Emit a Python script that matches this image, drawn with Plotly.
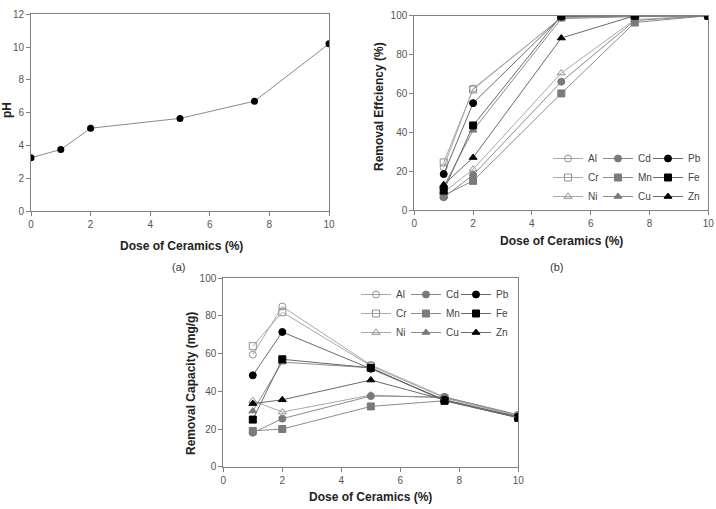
import plotly.graph_objects as go

W, H = 716, 509

# ---------------- data ----------------
dose_ph = [0, 1, 2, 5, 7.5, 10]
ph_vals = [3.25, 3.75, 5.05, 5.65, 6.7, 10.2]

dose = [1, 2, 5, 7.5, 10]
metals = ["Al", "Cd", "Pb", "Cr", "Mn", "Fe", "Ni", "Cu", "Zn"]

efficiency = {
    "Al": [22, 62.5, 99, 100, 100],
    "Cr": [24.5, 62, 99, 100, 100],
    "Pb": [18.5, 55, 99.5, 100, 100],
    "Fe": [10, 43.5, 100, 100, 100],
    "Cu": [12, 41, 98.5, 99.5, 100],
    "Zn": [13, 27, 88.5, 100, 100],
    "Ni": [9, 21, 70.5, 98, 100],
    "Cd": [6.5, 18, 66, 97.5, 100],
    "Mn": [7.5, 15, 60, 96.5, 100],
}

capacity = {
    "Al": [59.5, 85, 54, 37, 27.5],
    "Cr": [64, 82, 53.5, 36.5, 27],
    "Pb": [48.5, 71.5, 52, 35.5, 26.5],
    "Fe": [25, 57, 52.5, 35, 26],
    "Cu": [29.5, 55.5, 52.5, 35, 26.5],
    "Zn": [33.5, 35.5, 46, 35.5, 26],
    "Ni": [35, 29, 38, 36.5, 27],
    "Cd": [18, 25.5, 37.5, 37, 27.5],
    "Mn": [19, 20, 32, 35, 26],
}

x_ticks = [0, 2, 4, 6, 8, 10]

# ---------------- styles ----------------
GRAY = "#808080"
style = {
    "Al": dict(symbol="circle-open", mcolor="#909090", fill="white", lcolor="#a8a8a8"),
    "Cr": dict(symbol="square-open", mcolor="#909090", fill="white", lcolor="#a8a8a8"),
    "Ni": dict(symbol="triangle-up-open", mcolor="#909090", fill="white", lcolor="#a8a8a8"),
    "Cd": dict(symbol="circle", mcolor="#7a7a7a", fill="#7a7a7a", lcolor="#8c8c8c"),
    "Mn": dict(symbol="square", mcolor="#7a7a7a", fill="#7a7a7a", lcolor="#8c8c8c"),
    "Cu": dict(symbol="triangle-up", mcolor="#7a7a7a", fill="#7a7a7a", lcolor="#8c8c8c"),
    "Pb": dict(symbol="circle", mcolor="#000000", fill="#000000", lcolor="#6a6a6a"),
    "Fe": dict(symbol="square", mcolor="#000000", fill="#000000", lcolor="#6a6a6a"),
    "Zn": dict(symbol="triangle-up", mcolor="#000000", fill="#000000", lcolor="#6a6a6a"),
}
column_of = {"Al": 0, "Cr": 0, "Ni": 0, "Cd": 1, "Mn": 1, "Cu": 1, "Pb": 2, "Fe": 2, "Zn": 2}
legend_order = ["Al", "Cr", "Ni", "Cd", "Mn", "Cu", "Pb", "Fe", "Zn"]

TITLE_FONT = dict(family="Liberation Sans Narrow, Arial Narrow, sans-serif", size=12, color="#222")
TICK_FONT = dict(family="Liberation Sans Narrow, Arial Narrow, sans-serif", size=10, color="#555")
LEG_FONT = dict(family="Liberation Sans Narrow, Arial Narrow, sans-serif", size=10, color="#444")

fig = go.Figure()

# (a) pH
fig.add_trace(go.Scatter(
    x=dose_ph, y=ph_vals, mode="lines+markers", showlegend=False,
    line=dict(color="#8a8a8a", width=1),
    marker=dict(symbol="circle", size=7, color="black"),
    xaxis="x", yaxis="y"))

# (b) and (c)
def add_set(data, xa, ya, legends):
    for m in legend_order:
        s = style[m]
        fig.add_trace(go.Scatter(
            x=dose, y=data[m], mode="lines+markers", name=m,
            line=dict(color=s["lcolor"], width=1),
            marker=dict(symbol=s["symbol"], size=7, color=s["fill"] if "open" not in s["symbol"] else s["mcolor"],
                        line=dict(color=s["mcolor"], width=1)),
            xaxis=xa, yaxis=ya, legend=legends[column_of[m]]))

add_set(efficiency, "x2", "y2", ["legend", "legend2", "legend3"])
add_set(capacity, "x3", "y3", ["legend4", "legend5", "legend6"])

def px_x(p):
    return p / W

def px_y(p):
    return 1 - p / H

axis_common = dict(showline=True, linecolor=GRAY, linewidth=1, mirror=True, showgrid=False,
                   zeroline=False, ticks="outside", ticklen=4, tickcolor=GRAY,
                   tickfont=TICK_FONT, automargin=False)

layout = dict(
    width=W, height=H, margin=dict(l=0, r=0, t=0, b=0),
    paper_bgcolor="white", plot_bgcolor="white", template="none",
    xaxis=dict(domain=[px_x(31), px_x(329)], range=[0, 10], tickvals=x_ticks, anchor="y", **axis_common),
    yaxis=dict(domain=[px_y(211), px_y(14.3)], range=[0, 12], tickvals=[0, 2, 4, 6, 8, 10, 12], anchor="x", **axis_common),
    xaxis2=dict(domain=[px_x(414.3), px_x(708.3)], range=[0, 10], tickvals=x_ticks, anchor="y2", **axis_common),
    yaxis2=dict(domain=[px_y(210), px_y(15.7)], range=[0, 100], tickvals=[0, 20, 40, 60, 80, 100], anchor="x2", **axis_common),
    xaxis3=dict(domain=[px_x(223.3), px_x(518.3)], range=[0, 10], tickvals=x_ticks, anchor="y3", **axis_common),
    yaxis3=dict(domain=[px_y(466.7), px_y(278.3)], range=[0, 100], tickvals=[0, 20, 40, 60, 80, 100], anchor="x3", **axis_common),
)

leg_base = dict(font=LEG_FONT, bgcolor="rgba(0,0,0,0)", borderwidth=0, orientation="v",
                xanchor="left", yanchor="top", itemwidth=30, tracegroupgap=0, itemclick=False)
b_left = [548, 598, 648]
b_top = 144
c_left = [356, 406, 456]
c_top = 280
for i, L in enumerate(["legend", "legend2", "legend3"]):
    layout[L] = dict(x=px_x(b_left[i]), y=px_y(b_top), **leg_base)
for i, L in enumerate(["legend4", "legend5", "legend6"]):
    layout[L] = dict(x=px_x(c_left[i]), y=px_y(c_top), **leg_base)

fig.update_layout(**layout)

annos = [
    dict(text="<b>pH</b>", x=px_x(7), y=px_y(110), textangle=-90),
    dict(text="<b>Dose of Ceramics (%)</b>", x=px_x(181), y=px_y(246)),
    dict(text="(a)", x=px_x(178), y=px_y(267), bold=False),
    dict(text="<b>Removal Effciency (%)</b>", x=px_x(379), y=px_y(107), textangle=-90),
    dict(text="<b>Dose of Ceramics (%)</b>", x=px_x(561), y=px_y(241)),
    dict(text="(b)", x=px_x(556), y=px_y(267), bold=False),
    dict(text="<b>Removal Capacity (mg/g)</b>", x=px_x(191), y=px_y(384), textangle=-90),
    dict(text="<b>Dose of Ceramics (%)</b>", x=px_x(370), y=px_y(497)),
]
for a in annos:
    bold = a.pop("bold", True)
    f = dict(TITLE_FONT) if bold else dict(family=TITLE_FONT["family"], size=11, color="#333")
    fig.add_annotation(xref="paper", yref="paper", showarrow=False, xanchor="center", yanchor="middle",
                       font=f, **a)

fig.write_html("out.html")
